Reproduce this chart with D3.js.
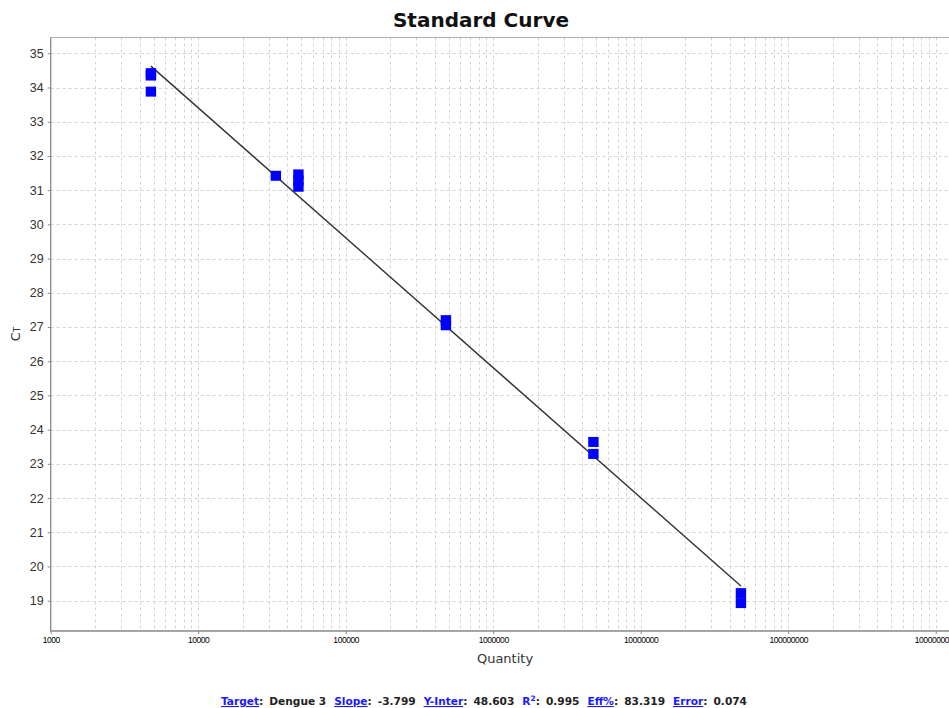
<!DOCTYPE html>
<html><head><meta charset="utf-8">
<script src="https://cdn.jsdelivr.net/npm/d3@7"></script>
<style>body{margin:0;background:#fff;overflow:hidden}svg{display:block}</style>
</head><body>
<svg id="c" width="949" height="708"></svg>
<script>
const quantities = [4780, 4780, 4780, 33600, 47800, 47800, 47800, 478000, 478000, 4780000, 4780000, 47800000, 47800000];
const ctValues   = [34.42, 34.35, 33.88, 31.42, 31.46, 31.28, 31.10, 27.20, 27.05, 23.64, 23.29, 19.22, 18.93];
const yTicks = [19,20,21,22,23,24,25,26,27,28,29,30,31,32,33,34,35];
const xTicks = [1e3,1e4,1e5,1e6,1e7,1e8,1e9];
const fitSlope = -3.799, fitIntercept = 48.603;
const statsLabels = ["Target", "Slope", "Y-Inter", "R2", "Eff%", "Error"];
const statsValues = ["Dengue 3", "-3.799", "48.603", "0.995", "83.319", "0.074"];

const svg = d3.select("#c");
const L = 50.7, R = 959, T = 37.5, B = 631;
const x = d3.scaleLog().domain([1000, Math.pow(10, 3 + (R - L) / 147.5)]).range([L, R]);
const y = d3.scaleLinear().domain([18.114, 35.462]).range([B, T]);

svg.append("clipPath").attr("id","pc").append("rect").attr("x",L).attr("y",T).attr("width",R-L).attr("height",B-T);
const g = svg.append("g").attr("clip-path","url(#pc)");

// minor/major vertical grid
const vgrid = [];
for (let e = 3; e <= 9; e++) for (let m = 1; m <= 9; m++) { const v = m*Math.pow(10,e); if (v > 1000 && v < x.domain()[1]) vgrid.push(v); }
g.selectAll(".vg").data(vgrid).enter().append("line")
  .attr("x1", d=>Math.round(x(d))+0.5).attr("x2", d=>Math.round(x(d))+0.5).attr("y1",T).attr("y2",B)
  .attr("stroke","#d4d4d4").attr("stroke-width",1).attr("stroke-dasharray","3,3");
g.selectAll(".hg").data(yTicks).enter().append("line")
  .attr("x1",L).attr("x2",R).attr("y1", d=>Math.round(y(d))+0.5).attr("y2", d=>Math.round(y(d))+0.5)
  .attr("stroke","#d4d4d4").attr("stroke-width",1).attr("stroke-dasharray","3,3");

// regression line
const qmin = d3.min(quantities.filter(q=>q!==33600)), qmax = d3.max(quantities);
const fit = [qmin, qmax].map(q => [q, fitIntercept + fitSlope*Math.log10(q)]);
g.append("path").datum(fit)
  .attr("d", d3.line().x(d=>x(d[0])).y(d=>y(d[1])))
  .attr("stroke","#333").attr("stroke-width",1.4).attr("fill","none");

// points
const pts = quantities.map((q,i)=>({q, ct: ctValues[i]}));
g.selectAll(".pt").data(pts).enter().append("rect")
  .attr("x", d=>x(d.q)-5.2).attr("y", d=>y(d.ct)-5).attr("width",10.4).attr("height",10)
  .attr("fill","#0000ff");

// frame
svg.append("line").attr("x1",L).attr("x2",R).attr("y1",T).attr("y2",T).attr("stroke","#b0b0b0");
// axes
const yAxis = d3.axisLeft(y).tickValues(yTicks).tickSize(3).tickSizeOuter(0).tickPadding(4);
const ya = svg.append("g").attr("transform",`translate(${L},0)`).call(yAxis);
ya.select(".domain").remove();
svg.append("line").attr("x1",L).attr("x2",L).attr("y1",T).attr("y2",B+0.5).attr("stroke","#888").attr("stroke-width",1.3);
ya.selectAll("line").attr("stroke","#888");
ya.selectAll("text").attr("font-family","Liberation Sans, Arial, sans-serif").attr("font-size","12.5px").attr("fill","#333");

const xAxis = d3.axisBottom(x).tickValues(xTicks).tickFormat(d3.format("d")).tickSize(3).tickSizeOuter(0).tickPadding(3);
const xa = svg.append("g").attr("transform",`translate(0,${B})`).call(xAxis);
xa.select(".domain").remove();
svg.append("line").attr("x1",L).attr("x2",R).attr("y1",B).attr("y2",B).attr("stroke","#888").attr("stroke-width",1.3);
xa.selectAll("line").attr("stroke","#888");
xa.selectAll("text").attr("font-family","Liberation Sans, Arial, sans-serif").attr("font-size","8.5px").attr("fill","#000").attr("letter-spacing","-0.45px").attr("dy","0.75em");

// titles
svg.append("text").attr("x",481).attr("y",27).attr("text-anchor","middle")
  .attr("font-family","DejaVu Sans, sans-serif").attr("font-weight","bold").attr("font-size","20px").attr("fill","#111")
  .text("Standard Curve");
svg.append("text").attr("x",505).attr("y",663).attr("text-anchor","middle")
  .attr("font-family","DejaVu Sans, sans-serif").attr("font-size","13px").attr("fill","#333").text("Quantity");
const yl = svg.append("text").attr("transform","translate(20,334) rotate(-90)").attr("text-anchor","middle")
  .attr("font-family","DejaVu Sans, sans-serif").attr("font-size","13px").attr("fill","#333");
yl.append("tspan").text("C");
yl.append("tspan").attr("font-size","9px").text("T");

// stats line
const st = svg.append("text").attr("x",221).attr("y",705)
  .attr("font-family","DejaVu Sans, Verdana, sans-serif").attr("font-weight","bold").attr("font-size","10.6px").attr("fill","#222");
statsLabels.forEach((lab,i)=>{
  if (lab === "R2") {
    st.append("tspan").attr("dx", i? 8:0).attr("fill","#1a1aff").text("R");
    st.append("tspan").attr("fill","#1a1aff").attr("font-size","7.5px").attr("dy",-4).text("2");
    st.append("tspan").attr("dy",4).text(":");
  } else {
    st.append("tspan").attr("dx", i? 8:0).attr("fill","#1a1aff").attr("text-decoration","underline").text(lab);
    st.append("tspan").text(":");
  }
  st.append("tspan").attr("dx",6).text(statsValues[i]);
});
</script>
</body></html>
